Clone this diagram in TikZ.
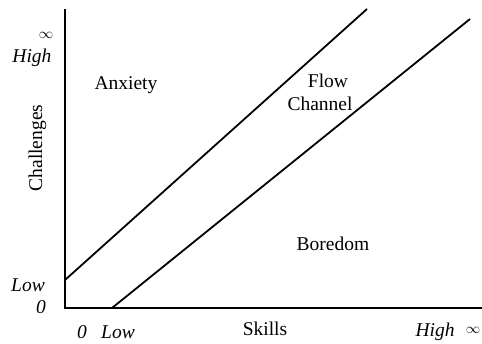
\documentclass[tikz,border=0pt]{standalone}
\usepackage{fontspec}
\setmainfont{Liberation Serif}
\begin{document}
\begin{tikzpicture}[x={(1pt,0)},y={(0,-1pt)},
  lbl/.style={inner sep=0pt,anchor=base,font=\fontsize{19.5}{22}\selectfont},
  ilbl/.style={lbl,font=\fontsize{19.5}{22}\selectfont\itshape},
  inf/.style={inner sep=0pt,anchor=center,font=\fontsize{15}{17}\selectfont},
  axis/.style={line width=2pt,line cap=rect},
  bound/.style={line width=1.8pt}]
\useasboundingbox (0,0) rectangle (482,343);
\coordinate (o) at (65,308);
\coordinate (ytop) at (65,10);
\coordinate (xend) at (485,308);
\draw[axis] (ytop) -- (o) -- (xend);
\coordinate (a1) at (65,280);
\coordinate (a2) at (367,9);
\coordinate (b1) at (112,308);
\coordinate (b2) at (470,19);
\draw[bound] (a1) -- (a2);
\draw[bound] (b1) -- (b2);
\node[lbl] (anx) at (126,89) {Anxiety};
\node[lbl] (flow) at (328,87) {Flow};
\node[lbl] (chan) at (320,110) {Channel};
\node[lbl] (bor) at (333,250) {Boredom};
\node[lbl] (sk) at (265,335) {Skills};
\node[lbl,rotate=90] (ch) at (42,148) {Challenges};
\node[inf] (yinf) at (46,35) {$\infty$};
\node[ilbl] (yhigh) at (32,62) {High};
\node[ilbl] (ylow) at (28,291) {Low};
\node[ilbl] (yzero) at (41,313) {0};
\node[ilbl] (xzero) at (82,338) {0};
\node[ilbl] (xlow) at (118,338) {Low};
\node[ilbl] (xhigh) at (435,336) {High};
\node[inf] (xinf) at (473,330) {$\infty$};
\end{tikzpicture}
\end{document}
